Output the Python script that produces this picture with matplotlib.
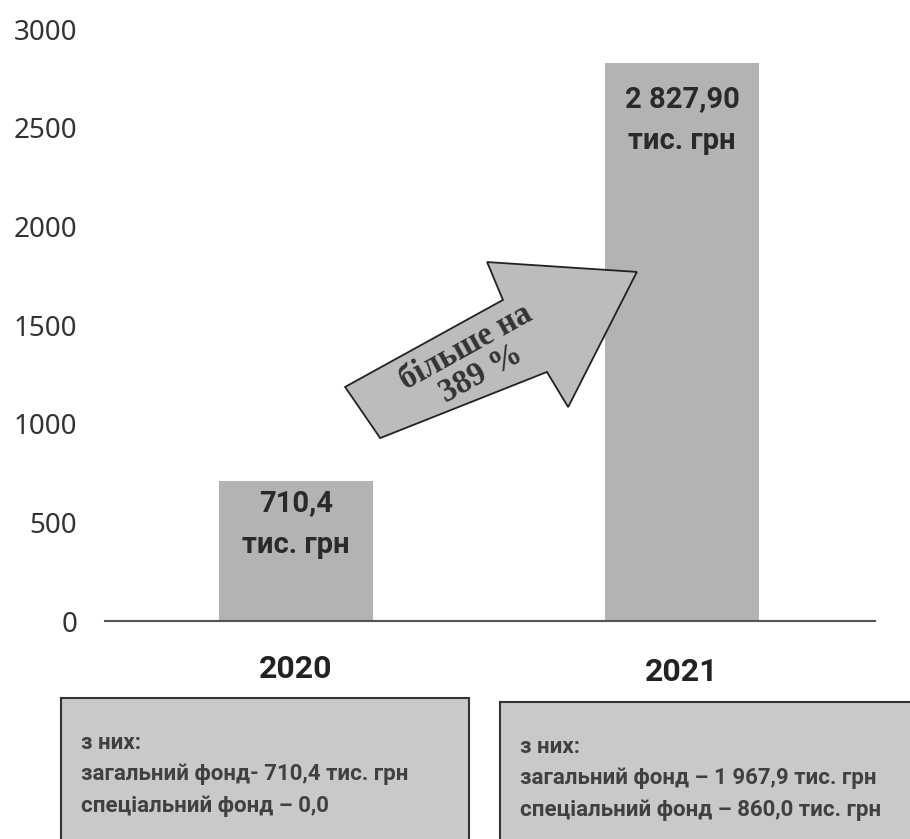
import matplotlib
matplotlib.use("Agg")
import matplotlib.pyplot as plt
from matplotlib.patches import Polygon, Rectangle

years = ["2020", "2021"]
values = [710.4, 2827.9]
value_labels = ["710,4\nтис. грн", "2 827,90\nтис. грн"]
yticks = [0, 500, 1000, 1500, 2000, 2500, 3000]
box_texts = [
    "з них:\nзагальний фонд- 710,4 тис. грн\nспеціальний фонд – 0,0",
    "з них:\nзагальний фонд – 1 967,9 тис. грн\nспеціальний фонд – 860,0 тис. грн",
]
arrow_text = "більше на\n389 %"

plt.rcParams['font.family'] = ['Noto Sans', 'DejaVu Sans']
BOLD = ['Roboto', 'DejaVu Sans']

fig = plt.figure(figsize=(9.10, 8.39), dpi=100)
ax = fig.add_axes([105/910, 218/839, 770/910, 592/839])
x = range(len(years))
ax.bar(x, values, width=0.40, color="#b3b3b3", zorder=2)
ax.set_xlim(-0.495, 1.5)
ax.set_ylim(0, 3000)
ax.set_yticks(yticks)
ax.set_yticklabels([str(v) for v in yticks], fontsize=20, color="#333333")
ax.tick_params(axis='y', length=0, pad=20)
ax.set_xticks([])
for s in ["top", "right", "left"]:
    ax.spines[s].set_visible(False)
ax.spines["bottom"].set_color("#555555")
ax.spines["bottom"].set_linewidth(1.5)

# value labels inside bars
offsets = [218, 290]
for i, (v, lab) in enumerate(zip(values, value_labels)):
    ax.text(i, v - offsets[i], lab, ha="center", va="center", fontsize=21,
            fontweight="bold", family=BOLD, color="#2a2a2a", linespacing=1.65, zorder=3)

# arrow annotation (data coords)
arrow_pts = [(0.127, 1186), (0.536, 1627), (0.495, 1819), (0.883, 1769),
             (0.705, 1084), (0.650, 1262), (0.218, 927)]
ax.add_patch(Polygon(arrow_pts, closed=True, facecolor="#bcbcbc",
                     edgecolor="#222222", linewidth=1.3, zorder=4, clip_on=False))
ax.text(0.46, 1320, arrow_text, ha="center", va="center", rotation=29,
        rotation_mode="anchor", fontsize=23.5, fontweight="bold",
        family="Liberation Serif", color="#333333", linespacing=1.0, zorder=5)

# year labels
year_y = [669, 672]
for i, yr in enumerate(years):
    xp = ax.transData.transform((i, 0))[0]
    fig.text(xp / 910, 1 - year_y[i] / 839, yr, ha="center", va="center",
             fontsize=23, fontweight="bold", family=BOLD, color="#222222")

# info boxes
boxes = [(61, 698, 408, 150), (500, 702, 420, 150)]
for (bx, by, bw, bh), txt in zip(boxes, box_texts):
    fig.patches.append(Rectangle((bx / 910, 1 - (by + bh) / 839), bw / 910, bh / 839,
                                 transform=fig.transFigure, facecolor="#c9c9c9",
                                 edgecolor="#333333", linewidth=1.5))
    fig.text((bx + 20) / 910, 1 - (by + 34) / 839, txt, ha="left", va="top",
             fontsize=16, fontweight="bold", family=BOLD, color="#404040", linespacing=1.55)

fig.savefig("out.png", dpi=100)
